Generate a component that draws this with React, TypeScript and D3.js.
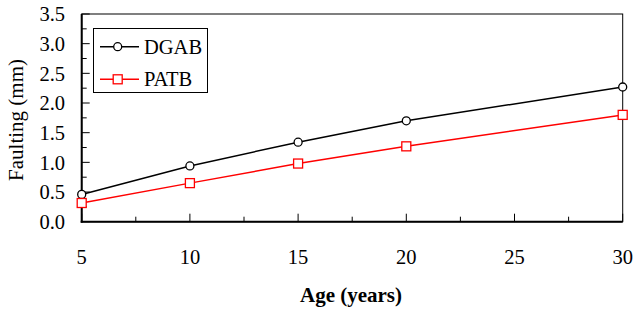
import React from "react";
import * as d3 from "d3";

const ages = [5, 10, 15, 20, 30];
const dgab = [0.46, 0.94, 1.34, 1.70, 2.27];
const patb = [0.315, 0.65, 0.98, 1.27, 1.80];
const seriesNames = ["DGAB", "PATB"];
const seriesColors = ["#000000", "#ff0000"];
const yTicks = [0, 0.5, 1, 1.5, 2, 2.5, 3, 3.5];
const yMinor = [0.25, 0.75, 1.25, 1.75, 2.25, 2.75, 3.25];
const xTicks = [5, 10, 15, 20, 25, 30];
const xMinor = [7.5, 12.5, 17.5, 22.5, 27.5];

const W = 634, H = 310;
const L = 81.7, R = 622.7, T = 14, B = 221.7;
const FONT = "'Liberation Serif', 'Times New Roman', serif";

export default function App() {
  const x = d3.scaleLinear().domain([5, 30]).range([L, R]);
  const y = d3.scaleLinear().domain([0, 3.5]).range([B, T]);
  const line = d3.line<number>().x((_, i) => x(ages[i])).y((d) => y(d));
  const series = [dgab, patb];
  const txt = { fontFamily: FONT };

  return (
    <svg width={W} height={H} style={{ position: "absolute", left: 0, top: 0, background: "#fff" }}>
      <rect x={L} y={T} width={R - L} height={B - T} fill="none" stroke="#000" strokeWidth={1} />
      <line x1={L} x2={L} y1={T} y2={B + 1} stroke="#000" strokeWidth={2} />
      <line x1={L - 1} x2={R} y1={B} y2={B} stroke="#000" strokeWidth={2} />
      {yTicks.map((t) => (
        <g key={"yt" + t}>
          <line x1={L} x2={L + 8} y1={y(t)} y2={y(t)} stroke="#000" strokeWidth={1} />
          <text x={65} y={y(t)} dy="0.35em" textAnchor="end" style={txt} fontSize={20.5}>
            {d3.format(".1f")(t)}
          </text>
        </g>
      ))}
      {yMinor.map((t) => (
        <line key={"ym" + t} x1={L} x2={L + 5} y1={y(t)} y2={y(t)} stroke="#000" strokeWidth={1} />
      ))}
      {xTicks.map((t) => (
        <g key={"xt" + t}>
          <line x1={x(t)} x2={x(t)} y1={B} y2={B - 8} stroke="#000" strokeWidth={1} />
          <text x={x(t)} y={264} textAnchor="middle" style={txt} fontSize={20.5}>
            {t}
          </text>
        </g>
      ))}
      {xMinor.map((t) => (
        <line key={"xm" + t} x1={x(t)} x2={x(t)} y1={B} y2={B - 5} stroke="#000" strokeWidth={1} />
      ))}
      <text transform={`translate(23,120) rotate(-90)`} textAnchor="middle" style={txt} fontSize={21}>
        Faulting (mm)
      </text>
      <text x={351} y={302} textAnchor="middle" style={txt} fontSize={21} fontWeight="bold">
        Age (years)
      </text>
      {series.map((s, si) => (
        <g key={"s" + si}>
          <path d={line(s) || ""} fill="none" stroke={seriesColors[si]} strokeWidth={1.5} />
          {s.map((v, i) =>
            si === 0 ? (
              <circle key={i} cx={x(ages[i])} cy={y(v)} r={4} fill="#fff" stroke={seriesColors[si]} strokeWidth={1.3} />
            ) : (
              <rect key={i} x={x(ages[i]) - 4.5} y={y(v) - 4.5} width={9} height={9} fill="#fff" stroke={seriesColors[si]} strokeWidth={1.3} />
            )
          )}
        </g>
      ))}
      <rect x={93.5} y={28.5} width={114} height={64} fill="#fff" stroke="#000" strokeWidth={1} />
      {seriesNames.map((n, i) => {
        const ly = i === 0 ? 46.7 : 79.3;
        return (
          <g key={"lg" + n}>
            <line x1={100} x2={139} y1={ly} y2={ly} stroke={seriesColors[i]} strokeWidth={1.5} />
            {i === 0 ? (
              <circle cx={117.7} cy={ly} r={4} fill="#fff" stroke={seriesColors[i]} strokeWidth={1.3} />
            ) : (
              <rect x={117.7 - 4.5} y={ly - 4.5} width={9} height={9} fill="#fff" stroke={seriesColors[i]} strokeWidth={1.3} />
            )}
            <text x={144} y={ly} dy="0.35em" style={txt} fontSize={20.5}>
              {n}
            </text>
          </g>
        );
      })}
    </svg>
  );
}
